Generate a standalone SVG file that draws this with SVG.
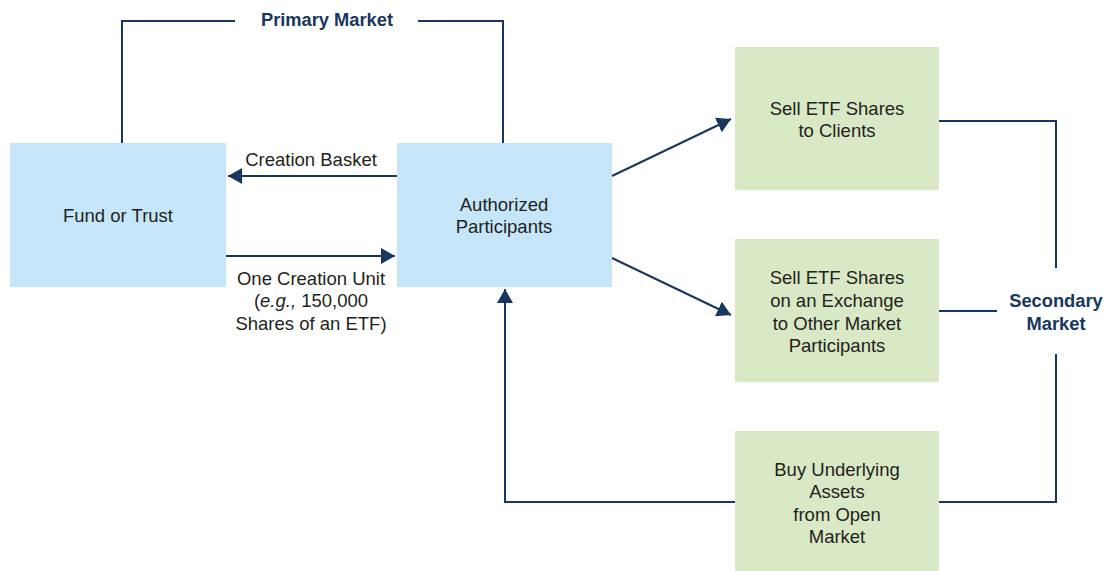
<svg xmlns="http://www.w3.org/2000/svg" width="1104" height="571" viewBox="0 0 1104 571">
  <style>
    .blue { fill: #c5e6f8; }
    .green { fill: #d9e8c5; }
    .lbl { font-family: "Liberation Sans", Arial, sans-serif; font-size: 18.5px; fill: #231f20; text-anchor: middle; }
    .hdr { font-family: "Liberation Sans", Arial, sans-serif; font-size: 18.3px; font-weight: bold; fill: #17375e; text-anchor: middle; }
    .wire { fill: none; stroke: #17375e; stroke-width: 2; }
  </style>
  <defs>
    <marker id="arrow" markerWidth="8" markerHeight="8" refX="7" refY="4" orient="auto" markerUnits="strokeWidth">
      <path d="M0,0 L7,4 L0,8 Z" fill="#17375e"/>
    </marker>
  </defs>
  <rect width="1104" height="571" fill="#ffffff"/>

  <!-- market brackets and flow arrows -->
  <g id="connectors">
    <path class="wire" d="M122,143 V21 H235"/>
    <path class="wire" d="M418,21 H503 V143"/>
    <text class="hdr" x="327" y="26">Primary Market</text>

    <line class="wire" x1="397" y1="176" x2="228" y2="176" marker-end="url(#arrow)"/>
    <text class="lbl" x="311" y="166">Creation Basket</text>

    <line class="wire" x1="226" y1="256" x2="395" y2="256" marker-end="url(#arrow)"/>
    <text class="lbl" x="311" y="285">One Creation Unit</text>
    <text class="lbl" x="311" y="307">(<tspan font-style="italic">e.g.,</tspan> 150,000</text>
    <text class="lbl" x="311" y="330">Shares of an ETF)</text>

    <line class="wire" x1="612" y1="176" x2="731" y2="119" marker-end="url(#arrow)"/>
    <line class="wire" x1="612" y1="258" x2="731" y2="315" marker-end="url(#arrow)"/>

    <path class="wire" d="M735,502 H505 V289" marker-end="url(#arrow)"/>

    <path class="wire" d="M939,121 H1056 V268"/>
    <path class="wire" d="M939,311 H997"/>
    <path class="wire" d="M1056,354 V502 H939"/>
    <text class="hdr" x="1056" y="307">Secondary</text>
    <text class="hdr" x="1056" y="330">Market</text>
  </g>

  <g id="fund">
    <rect class="blue" x="10" y="143" width="216" height="144"/>
    <text class="lbl" x="118" y="222">Fund or Trust</text>
  </g>

  <g id="participants">
    <rect class="blue" x="397" y="143" width="215" height="144"/>
    <text class="lbl" x="504" y="211">Authorized</text>
    <text class="lbl" x="504" y="233">Participants</text>
  </g>

  <g id="sell-clients">
    <rect class="green" x="735" y="47" width="204" height="143"/>
    <text class="lbl" x="837" y="115">Sell ETF Shares</text>
    <text class="lbl" x="837" y="137">to Clients</text>
  </g>

  <g id="sell-exchange">
    <rect class="green" x="735" y="239" width="204" height="143"/>
    <text class="lbl" x="837" y="284">Sell ETF Shares</text>
    <text class="lbl" x="837" y="307">on an Exchange</text>
    <text class="lbl" x="837" y="330">to Other Market</text>
    <text class="lbl" x="837" y="352">Participants</text>
  </g>

  <g id="buy-assets">
    <rect class="green" x="735" y="431" width="204" height="140"/>
    <text class="lbl" x="837" y="476">Buy Underlying</text>
    <text class="lbl" x="837" y="498">Assets</text>
    <text class="lbl" x="837" y="521">from Open</text>
    <text class="lbl" x="837" y="543">Market</text>
  </g>
</svg>
